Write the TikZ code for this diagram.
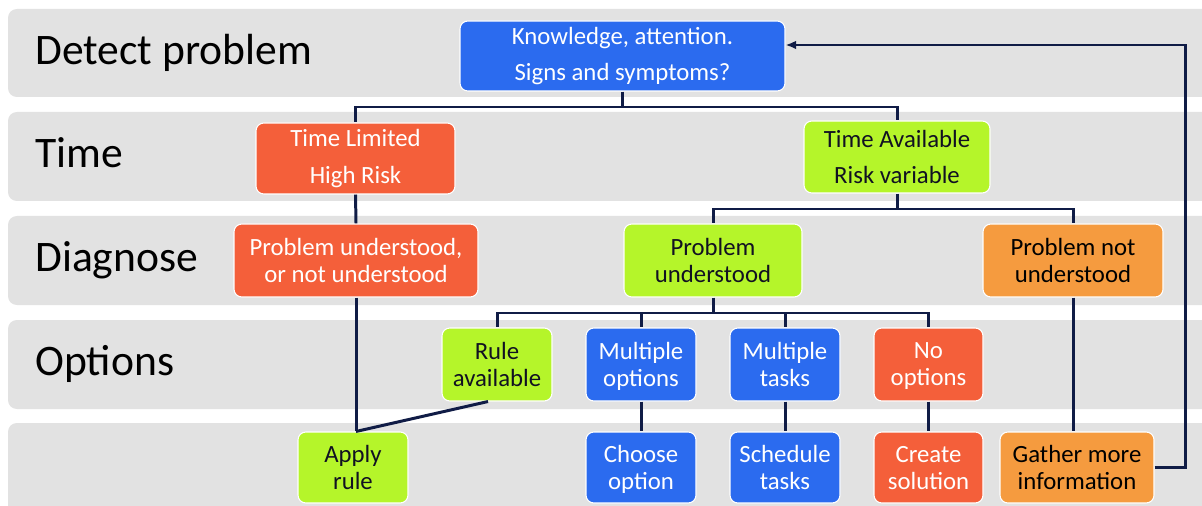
\documentclass[tikz,border=0pt]{standalone}
\usepackage{fontspec}
\setmainfont{Carlito}
\usetikzlibrary{arrows.meta,calc}
\definecolor{bandgray}{HTML}{E2E2E2}
\definecolor{nblue}{HTML}{2B6BEF}
\definecolor{nred}{HTML}{F45F3A}
\definecolor{ngreen}{HTML}{B5F52A}
\definecolor{norange}{HTML}{F59B3F}
\definecolor{lnavy}{HTML}{101C46}
\definecolor{dtext}{HTML}{111122}
\tikzset{
  band/.style={fill=bandgray, rounded corners=5pt},
  bandlabel/.style={anchor=base west, inner sep=0pt, font=\fontsize{24.8}{28}\selectfont, text=black},
  box/.style={rounded corners=4.5pt, draw=white, line width=0.6pt, inner sep=0pt, align=center,
    font=\fontsize{14.1}{15.4}\selectfont},
  sbox/.style={box, text depth=0pt},
  widebox/.style={box, font=\fontsize{14.1}{21}\selectfont},
  bluebox/.style={fill=nblue, text=white},
  redbox/.style={fill=nred, text=white},
  greenbox/.style={fill=ngreen, text=dtext},
  orangebox/.style={fill=norange, text=black},
  conn/.style={draw=lnavy, line width=1.7pt},
}
\begin{document}
\begin{tikzpicture}[x=0.02cm, y=-0.02cm]
\useasboundingbox (0,0) rectangle (1202,506);
\begin{scope}
\clip (0,0) rectangle (1202,506);
\fill[band] (8,9) rectangle (1230,97);
\fill[band] (8,112) rectangle (1230,201);
\fill[band] (8,216) rectangle (1230,305);
\fill[band] (8,320) rectangle (1230,409);
\fill[band] (8,423) rectangle (1230,530);
\end{scope}
\node[bandlabel] (l1) at (35,65) {Detect problem};
\node[bandlabel] (l2) at (35,168) {Time};
\node[bandlabel] (l3) at (35,272) {Diagnose};
\node[bandlabel] (l4) at (35,375) {Options};

% nodes
\node[widebox, bluebox, minimum width=325*0.02cm, minimum height=70*0.02cm] (top) at (622.5,56) {Knowledge, attention.\\Signs and symptoms?};
\node[widebox, redbox, minimum width=199*0.02cm, minimum height=71*0.02cm] (tl) at (355.5,158.5) {Time Limited\\High Risk};
\node[widebox, greenbox, minimum width=186*0.02cm, minimum height=72*0.02cm] (ta) at (897,157) {Time Available\\Risk variable};
\node[sbox, redbox, minimum width=244*0.02cm, minimum height=73*0.02cm] (d1) at (356,260.5) {Problem understood,\\or not understood};
\node[sbox, greenbox, minimum width=178*0.02cm, minimum height=73*0.02cm] (pu) at (713,260.5) {Problem\\understood};
\node[sbox, orangebox, minimum width=180*0.02cm, minimum height=73*0.02cm] (pnu) at (1073,260.5) {Problem not\\understood};
\node[sbox, greenbox, minimum width=110*0.02cm, minimum height=73*0.02cm] (ra) at (497,364.5) {Rule\\available};
\node[sbox, bluebox, minimum width=110*0.02cm, minimum height=73*0.02cm] (mo) at (641,364.5) {Multiple\\options};
\node[sbox, bluebox, minimum width=110*0.02cm, minimum height=73*0.02cm] (mt) at (785,364.5) {Multiple\\tasks};
\node[sbox, redbox, minimum width=109*0.02cm, minimum height=73*0.02cm] (no) at (928.5,364.5) {No\\options};
\node[sbox, greenbox, minimum width=110*0.02cm, minimum height=71*0.02cm] (ar) at (353,467.5) {Apply\\rule};
\node[sbox, bluebox, minimum width=110*0.02cm, minimum height=71*0.02cm] (co) at (641,467.5) {Choose\\option};
\node[sbox, bluebox, minimum width=110*0.02cm, minimum height=71*0.02cm] (st) at (785,467.5) {Schedule\\tasks};
\node[sbox, redbox, minimum width=109*0.02cm, minimum height=71*0.02cm] (cs) at (928.5,467.5) {Create\\solution};
\node[sbox, orangebox, minimum width=154*0.02cm, minimum height=71*0.02cm] (gm) at (1077,467.5) {Gather more\\information};

% connectors
\coordinate (b1) at (622.5,107);
\coordinate (b2) at (897,209);
\coordinate (b3) at (713,313);
\coordinate (ret) at (1185,45);
\draw[conn] (top.south) -- (b1);
\draw[conn] (b1) -| (tl.north);
\draw[conn] (b1) -| (ta.north);
\draw[conn] (tl.south) -- (d1.north);
\draw[conn] (ta.south) -- (b2);
\draw[conn] (b2) -| (pu.north);
\draw[conn] (b2) -| (pnu.north);
\draw[conn] (pu.south) -- (b3);
\draw[conn] (b3) -| (ra.north);
\draw[conn] (b3) -| (mo.north);
\draw[conn] (b3) -| (mt.north);
\draw[conn] (b3) -| (no.north);
\draw[conn] (d1.south) -- (d1.south |- ar.north);
\draw[conn] ($(ra.south)+(-9,0)$) -- (d1.south |- ar.north);
\draw[conn] (mo.south) -- (co.north);
\draw[conn] (mt.south) -- (st.north);
\draw[conn] (no.south) -- (cs.north);
\draw[conn] (pnu.south) -- (pnu.south |- gm.north);
\draw[conn, -{Latex[length=6pt,width=5pt]}] (gm.east) -| (ret) -- (ret -| top.east);
\end{tikzpicture}
\end{document}
